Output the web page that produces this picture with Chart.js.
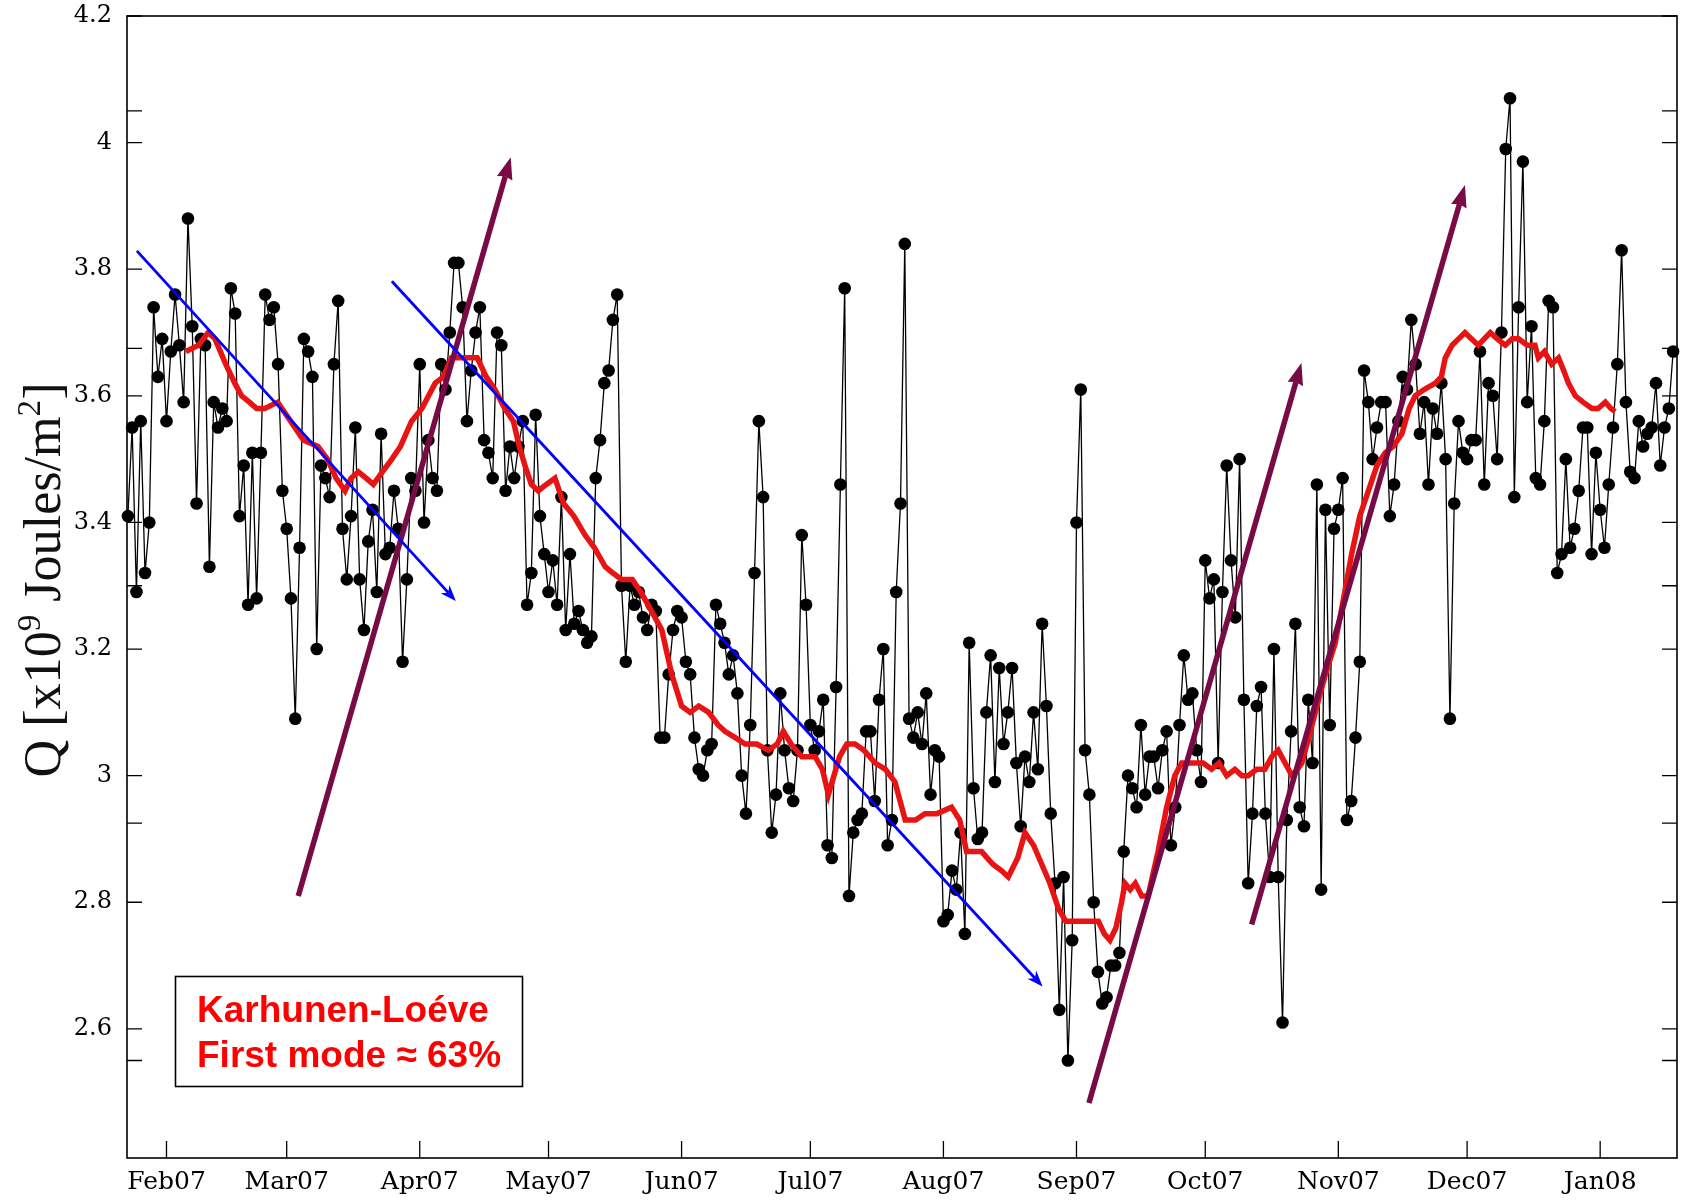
<!DOCTYPE html>
<html>
<head>
<meta charset="utf-8">
<title>Q 2007</title>
<script src="https://cdn.jsdelivr.net/npm/chart.js"></script>
<style>
  html, body { margin: 0; padding: 0; background: #fff; }
  #wrap { width: 1689px; height: 1201px; }
</style>
</head>
<body>
<div id="wrap"><canvas id="qChart" width="1689" height="1201"></canvas></div>
<script>
// day 0 = 1 Feb 2007, series starts 23 Jan 2007
const firstDay = -9;

// daily Q values [x10^9 J/m2]
const qValues = [
  3.41, 3.55, 3.29, 3.56, 3.32, 3.40, 3.74, 3.63, 3.69, 3.56,
  3.67, 3.76, 3.68, 3.59, 3.88, 3.71, 3.43, 3.69, 3.68, 3.33,
  3.59, 3.55, 3.58, 3.56, 3.77, 3.73, 3.41, 3.49, 3.27, 3.51,
  3.28, 3.51, 3.76, 3.72, 3.74, 3.65, 3.45, 3.39, 3.28, 3.09,
  3.36, 3.69, 3.67, 3.63, 3.20, 3.49, 3.47, 3.44, 3.65, 3.75,
  3.39, 3.31, 3.41, 3.55, 3.31, 3.23, 3.37, 3.42, 3.29, 3.54,
  3.35, 3.36, 3.45, 3.39, 3.18, 3.31, 3.47, 3.45, 3.65, 3.40,
  3.53, 3.47, 3.45, 3.65, 3.61, 3.70, 3.81, 3.81, 3.74, 3.56,
  3.64, 3.70, 3.74, 3.53, 3.51, 3.47, 3.70, 3.68, 3.45, 3.52,
  3.47, 3.52, 3.56, 3.27, 3.32, 3.57, 3.41, 3.35, 3.29, 3.34,
  3.27, 3.44, 3.23, 3.35, 3.24, 3.26, 3.23, 3.21, 3.22, 3.47,
  3.53, 3.62, 3.64, 3.72, 3.76, 3.30, 3.18, 3.30, 3.27, 3.29,
  3.25, 3.23, 3.27, 3.26, 3.06, 3.06, 3.16, 3.23, 3.26, 3.25,
  3.18, 3.16, 3.06, 3.01, 3.00, 3.04, 3.05, 3.27, 3.24, 3.21,
  3.16, 3.19, 3.13, 3.00, 2.94, 3.08, 3.32, 3.56, 3.44, 3.04,
  2.91, 2.97, 3.13, 3.04, 2.98, 2.96, 3.04, 3.38, 3.27, 3.08,
  3.04, 3.07, 3.12, 2.89, 2.87, 3.14, 3.46, 3.77, 2.81, 2.91,
  2.93, 2.94, 3.07, 3.07, 2.96, 3.12, 3.20, 2.89, 2.93, 3.29,
  3.43, 3.84, 3.09, 3.06, 3.10, 3.05, 3.13, 2.97, 3.04, 3.03,
  2.77, 2.78, 2.85, 2.82, 2.91, 2.75, 3.21, 2.98, 2.90, 2.91,
  3.10, 3.19, 2.99, 3.17, 3.05, 3.10, 3.17, 3.02, 2.92, 3.03,
  2.99, 3.10, 3.01, 3.24, 3.11, 2.94, 2.83, 2.63, 2.84, 2.55,
  2.74, 3.40, 3.61, 3.04, 2.97, 2.80, 2.69, 2.64, 2.65, 2.70,
  2.70, 2.72, 2.88, 3.00, 2.98, 2.95, 3.08, 2.97, 3.03, 3.03,
  2.98, 3.04, 3.07, 2.89, 2.95, 3.08, 3.19, 3.12, 3.13, 3.04,
  2.99, 3.34, 3.28, 3.31, 3.02, 3.29, 3.49, 3.34, 3.25, 3.50,
  3.12, 2.83, 2.94, 3.11, 3.14, 2.94, 2.84, 3.20, 2.84, 2.61,
  2.93, 3.07, 3.24, 2.95, 2.92, 3.12, 3.02, 3.46, 2.82, 3.42,
  3.08, 3.39, 3.42, 3.47, 2.93, 2.96, 3.06, 3.18, 3.64, 3.59,
  3.50, 3.55, 3.59, 3.59, 3.41, 3.46, 3.56, 3.63, 3.61, 3.72,
  3.65, 3.54, 3.59, 3.46, 3.58, 3.54, 3.62, 3.50, 3.09, 3.43,
  3.56, 3.51, 3.50, 3.53, 3.53, 3.67, 3.46, 3.62, 3.60, 3.50,
  3.70, 3.99, 4.07, 3.44, 3.74, 3.97, 3.59, 3.71, 3.47, 3.46,
  3.56, 3.75, 3.74, 3.32, 3.35, 3.50, 3.36, 3.39, 3.45, 3.55,
  3.55, 3.35, 3.51, 3.42, 3.36, 3.46, 3.55, 3.65, 3.83, 3.59,
  3.48, 3.47, 3.56, 3.52, 3.54, 3.55, 3.62, 3.49, 3.55, 3.58,
  3.67
];

// Karhunen-Loeve first mode reconstruction
const klDays = [
  4.5, 7.5, 9.7, 11.3, 13.8, 15.9, 17.5, 19.3, 21.0, 22.9, 25.9, 28.9, 31.9, 35.3, 37.5,
  39.5, 41.6, 43.0, 44.7, 46.5, 48.2, 50.3, 52.5, 54.5, 57.1, 59.5, 62.6, 64.5, 66.4, 68.5,
  70.3, 72.4, 74.5, 76.5, 78.8, 80.8, 82.2, 83.5, 85.0, 86.6, 88.5, 90.5, 92.5, 94.9, 97.5,
  99.7, 102.2, 104.0, 106.0, 108.5, 110.5, 113.0, 115.4, 117.7, 120.0, 122.0, 124.0, 126.3, 128.5, 130.1,
  132.5, 134.8, 137.5, 140.2, 142.3, 143.7, 145.5, 148.0, 151.1, 152.8, 154.2, 155.5, 156.8, 158.5, 160.4,
  162.5, 165.1, 167.5, 169.7, 172.1, 174.5, 176.7, 179.5, 182.9, 184.8, 186.4, 188.3, 189.9, 192.5, 194.5,
  196.1, 198.3, 200.0, 202.0, 203.9, 205.8, 207.8, 209.5, 211.7, 214.0, 217.1, 218.5, 219.8, 221.2, 222.5,
  223.3, 224.5, 225.7, 227.2, 228.7, 230.0, 231.0, 233.0, 234.9, 236.5, 238.9, 241.5, 243.5, 245.2, 247.0,
  248.9, 250.5, 252.0, 254.0, 255.9, 257.5, 259.0, 260.6, 262.2, 263.5, 264.5, 266.5, 268.4, 270.0, 272.3,
  274.5, 276.1, 278.0, 280.0, 282.0, 283.9, 285.8, 287.8, 289.5, 290.9, 293.0, 295.6, 297.0, 297.9, 299.5,
  301.0, 302.5, 304.0, 305.6, 307.0, 308.4, 310.0, 311.9, 313.5, 315.0, 317.0, 318.8, 319.6, 321.0, 322.7,
  324.3, 325.5, 326.6, 328.2, 330.0, 332.1, 333.5, 335.2, 336.5, 337.5
];
const klValues = [
  3.67, 3.68, 3.70, 3.69, 3.65, 3.62, 3.60, 3.59, 3.58, 3.58, 3.59, 3.56, 3.53, 3.52, 3.50,
  3.47, 3.45, 3.47, 3.48, 3.47, 3.46, 3.48, 3.50, 3.52, 3.56, 3.58, 3.62, 3.63, 3.66, 3.66,
  3.66, 3.66, 3.63, 3.61, 3.58, 3.56, 3.52, 3.49, 3.46, 3.45, 3.46, 3.47, 3.43, 3.41, 3.38,
  3.36, 3.33, 3.32, 3.31, 3.31, 3.29, 3.26, 3.23, 3.16, 3.11, 3.10, 3.11, 3.10, 3.08, 3.07,
  3.06, 3.05, 3.05, 3.04, 3.05, 3.07, 3.05, 3.03, 3.03, 3.01, 2.97, 3.00, 3.03, 3.05, 3.05,
  3.04, 3.02, 3.01, 2.99, 2.93, 2.93, 2.94, 2.94, 2.95, 2.93, 2.88, 2.88, 2.88, 2.86, 2.85,
  2.84, 2.87, 2.91, 2.89, 2.86, 2.83, 2.79, 2.77, 2.77, 2.77, 2.77, 2.75, 2.74, 2.76, 2.80,
  2.83, 2.82, 2.83, 2.81, 2.81, 2.85, 2.88, 2.95, 3.00, 3.02, 3.02, 3.02, 3.01, 3.02, 3.00,
  3.01, 3.00, 3.00, 3.01, 3.01, 3.03, 3.04, 3.02, 3.00, 3.01, 3.02, 3.07, 3.12, 3.16, 3.21,
  3.29, 3.35, 3.41, 3.45, 3.49, 3.51, 3.52, 3.54, 3.58, 3.60, 3.61, 3.62, 3.63, 3.66, 3.68,
  3.69, 3.70, 3.69, 3.68, 3.69, 3.70, 3.69, 3.68, 3.69, 3.69, 3.68, 3.68, 3.66, 3.67, 3.65,
  3.66, 3.64, 3.62, 3.60, 3.59, 3.58, 3.58, 3.59, 3.58, 3.575
];

const monthDays = [0, 28, 59, 89, 120, 150, 181, 212, 242, 273, 303, 334];
const monthLabels = ['Feb07', 'Mar07', 'Apr07', 'May07', 'Jun07', 'Jul07',
                     'Aug07', 'Sep07', 'Oct07', 'Nov07', 'Dec07', 'Jan08'];
const yTicks = [2.6, 2.8, 3.0, 3.2, 3.4, 3.6, 3.8, 4.0, 4.2];
const yExtraTicks = [2.55, 2.925, 3.3, 3.675, 4.05];

// trend arrows: [dayStart, qStart, dayEnd, qEnd]
const blueArrows = [
  [-6.9, 3.829, 67.4, 3.276],
  [52.5, 3.781, 204.1, 2.667]
];
const purpleArrows = [
  [30.7, 2.81, 80.2, 3.977],
  [214.9, 2.483, 264.4, 3.652],
  [252.8, 2.765, 302.5, 3.933]
];

const noteLines = ['Karhunen-Loéve', 'First mode \u2248 63%'];

const qPoints = qValues.map((v, i) => ({ x: firstDay + i, y: v }));
const klPoints = klValues.map((v, i) => ({ x: klDays[i], y: v }));

function drawArrow(ctx, x0, y0, x1, y1, color, width, headLen, headHalf, notch) {
  const ang = Math.atan2(y1 - y0, x1 - x0);
  const c = Math.cos(ang), s = Math.sin(ang);
  const bx = x1 - c * headLen, by = y1 - s * headLen;
  const nx = x1 - c * headLen * (1 - notch), ny = y1 - s * headLen * (1 - notch);
  ctx.strokeStyle = color;
  ctx.fillStyle = color;
  ctx.lineWidth = width;
  ctx.lineCap = 'butt';
  ctx.beginPath();
  ctx.moveTo(x0, y0);
  ctx.lineTo(nx, ny);
  ctx.stroke();
  ctx.beginPath();
  ctx.moveTo(x1, y1);
  ctx.lineTo(bx - s * headHalf, by + c * headHalf);
  ctx.lineTo(nx, ny);
  ctx.lineTo(bx + s * headHalf, by - c * headHalf);
  ctx.closePath();
  ctx.fill();
}

const background = {
  id: 'background',
  beforeDraw(chart) {
    const ctx = chart.ctx;
    ctx.save();
    ctx.fillStyle = '#fff';
    ctx.fillRect(0, 0, chart.width, chart.height);
    ctx.restore();
  }
};

// box and inward tick marks
const frameTicks = {
  id: 'frameTicks',
  beforeDatasetsDraw(chart) {
    const { ctx, chartArea: a, scales: { x, y } } = chart;
    ctx.save();
    ctx.strokeStyle = '#000';
    ctx.lineWidth = 1.6;
    ctx.strokeRect(a.left, a.top, a.right - a.left, a.bottom - a.top);
    ctx.lineWidth = 1.3;
    ctx.beginPath();
    monthDays.forEach(d => {
      const px = x.getPixelForValue(d);
      ctx.moveTo(px, a.bottom);
      ctx.lineTo(px, a.bottom - 17);
    });
    yTicks.concat(yExtraTicks).forEach(v => {
      const py = y.getPixelForValue(v);
      ctx.moveTo(a.left, py);
      ctx.lineTo(a.left + 15, py);
      ctx.moveTo(a.right, py);
      ctx.lineTo(a.right - 15, py);
    });
    ctx.stroke();
    ctx.restore();
  }
};

const arrows = {
  id: 'arrows',
  afterDatasetsDraw(chart) {
    const { ctx, scales: { x, y } } = chart;
    ctx.save();
    purpleArrows.forEach(([d0, q0, d1, q1]) => {
      drawArrow(ctx, x.getPixelForValue(d0), y.getPixelForValue(q0),
                x.getPixelForValue(d1), y.getPixelForValue(q1),
                '#780a46', 5.5, 22, 8, 0.1);
    });
    blueArrows.forEach(([d0, q0, d1, q1]) => {
      drawArrow(ctx, x.getPixelForValue(d0), y.getPixelForValue(q0),
                x.getPixelForValue(d1), y.getPixelForValue(q1),
                '#0000ff', 2.8, 16, 6, 0.3);
    });
    ctx.restore();
  }
};

const noteBox = {
  id: 'noteBox',
  afterDraw(chart) {
    const ctx = chart.ctx;
    ctx.save();
    ctx.fillStyle = '#fff';
    ctx.fillRect(175, 976, 347, 110);
    ctx.strokeStyle = '#000';
    ctx.lineWidth = 1.6;
    ctx.strokeRect(175.5, 976.5, 347, 110);
    ctx.fillStyle = '#ff0000';
    ctx.font = 'bold 37px "Liberation Sans", Arial, sans-serif';
    ctx.textBaseline = 'alphabetic';
    ctx.textAlign = 'left';
    ctx.fillText(noteLines[0], 197, 1022);
    ctx.fillText(noteLines[1], 197, 1067);
    ctx.restore();
  }
};

// rotated y title with superscripts
const yTitle = {
  id: 'yTitle',
  afterDraw(chart) {
    const ctx = chart.ctx;
    const parts = [['Q [x10', 0], ['9', 1], [' Joules/m', 0], ['2', 1], [']', 0]];
    const big = '52px "Liberation Serif", "Times New Roman", serif';
    const small = '33px "Liberation Serif", "Times New Roman", serif';
    ctx.save();
    let total = 0;
    const widths = parts.map(([t, sup]) => {
      ctx.font = sup ? small : big;
      const w = ctx.measureText(t).width;
      total += w;
      return w;
    });
    const target = 395;
    ctx.translate(60, 580);
    ctx.rotate(-Math.PI / 2);
    ctx.scale(target / total, 1);
    ctx.fillStyle = '#111';
    ctx.textBaseline = 'alphabetic';
    let cx = -total / 2;
    parts.forEach(([t, sup], i) => {
      ctx.font = sup ? small : big;
      ctx.fillText(t, cx, sup ? -20 : 0);
      cx += widths[i];
    });
    ctx.restore();
  }
};

new Chart(document.getElementById('qChart'), {
  type: 'scatter',
  data: {
    datasets: [
      {
        label: 'KL first mode',
        data: klPoints,
        showLine: true,
        borderColor: '#e81414',
        borderWidth: 5.5,
        pointRadius: 0,
        tension: 0,
        order: 0
      },
      {
        label: 'Q',
        data: qPoints,
        showLine: true,
        borderColor: '#000',
        borderWidth: 1.3,
        pointRadius: 6.3,
        pointBackgroundColor: '#000',
        pointBorderWidth: 0,
        tension: 0,
        clip: false,
        order: 1
      }
    ]
  },
  options: {
    responsive: false,
    animation: false,
    devicePixelRatio: 1,
    layout: { padding: { top: 16, right: 12, left: 0, bottom: 0 } },
    plugins: {
      legend: { display: false },
      tooltip: { enabled: false }
    },
    scales: {
      x: {
        type: 'linear',
        min: -9.2,
        max: 351.9,
        grid: { display: false, drawTicks: false },
        border: { display: false },
        afterBuildTicks(scale) {
          scale.ticks = monthDays.map(v => ({ value: v }));
        },
        afterFit(scale) {
          scale.height = 43;
          scale.paddingLeft = 0;
          scale.paddingRight = 0;
        },
        ticks: {
          autoSkip: false,
          maxRotation: 0,
          padding: 9,
          color: '#000',
          font: { family: '"DejaVu Serif", serif', size: 25 },
          callback: v => monthLabels[monthDays.indexOf(v)] || ''
        }
      },
      y: {
        min: 2.396,
        max: 4.2,
        grid: { display: false, drawTicks: false },
        border: { display: false },
        afterBuildTicks(scale) {
          scale.ticks = yTicks.map(v => ({ value: v }));
        },
        afterFit(scale) {
          scale.width = 127;
          scale.paddingTop = 0;
          scale.paddingBottom = 0;
        },
        ticks: {
          padding: 15,
          color: '#000',
          font: { family: '"DejaVu Serif", serif', size: 24 },
          callback: v => String(Math.round(v * 10) / 10)
        }
      }
    }
  },
  plugins: [background, frameTicks, arrows, noteBox, yTitle]
});
</script>
</body>
</html>
